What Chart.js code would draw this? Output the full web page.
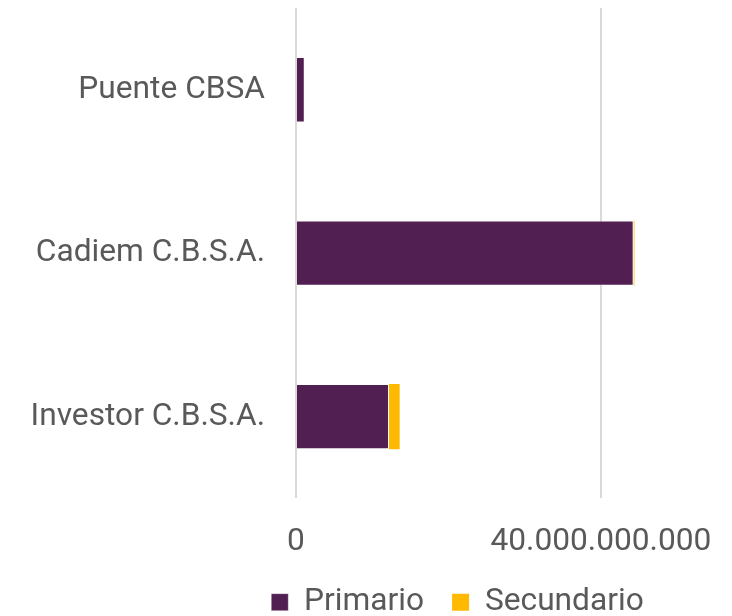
<!DOCTYPE html>
<html>
<head>
<meta charset="utf-8">
<script src="https://cdn.jsdelivr.net/npm/chart.js@4.4.1/dist/chart.umd.min.js"></script>
<style>
  html, body { margin: 0; padding: 0; background: #fff; }
  #wrap { width: 732px; height: 616px; position: relative; }
</style>
</head>
<body>
<div id="wrap"><canvas id="chart"></canvas></div>
<script>
const categories = ["Puente CBSA", "Cadiem C.B.S.A.", "Investor C.B.S.A."];
const primario = [1.15e9, 44.3e9, 12.2e9];
const secundario = [0, 0.1e9, 1.4e9];
const xTicks = [0, 40e9];
const X_MAX = 57.2e9;

const TEXT = "#595959";
const FONT = { family: "Roboto", size: 31.7 };

// 40000000000 -> 40.000.000.000
const fmt = (v) => String(Math.round(v)).replace(/\B(?=(\d{3})+(?!\d))/g, ".");

// the original legend is centred under the plot, not the whole canvas
const legendShift = {
  id: "legendShift",
  afterLayout: (chart) => { chart.legend.left = 183; }
};

new Chart(document.getElementById("chart"), {
  type: "bar",
  data: {
    labels: categories,
    datasets: [
      { label: "Primario", data: primario, backgroundColor: "#521f52", borderColor: "rgba(255,255,255,0.35)", borderWidth: 1, barPercentage: 0.4, categoryPercentage: 1 },
      { label: "Secundario", data: secundario, backgroundColor: "#ffb900", borderWidth: 0, barPercentage: 0.4, categoryPercentage: 1 }
    ]
  },
  options: {
    responsive: true,
    maintainAspectRatio: false,
    animation: false,
    indexAxis: "y",
    layout: { padding: { top: 8, left: 0, right: 0, bottom: -12 } },
    scales: {
      x: {
        stacked: true,
        min: 0,
        max: X_MAX,
        border: { display: false },
        grid: { color: "#d9d9d9", lineWidth: 2, drawTicks: false },
        ticks: {
          color: TEXT,
          font: FONT,
          padding: 25,
          maxRotation: 0,
          autoSkip: false,
          callback: (v) => fmt(v)
        },
        afterBuildTicks: (axis) => {
          axis.ticks = xTicks.map((value) => ({ value }));
        },
        afterFit: (axis) => {
          axis.height = 60;
          axis.paddingLeft = 0;
          axis.paddingRight = 0;
        }
      },
      y: {
        stacked: true,
        border: { display: false },
        grid: { display: false, drawTicks: false },
        ticks: { color: TEXT, font: FONT, padding: 31 },
        afterFit: (axis) => {
          axis.width = 296;
          axis.paddingTop = 0;
          axis.paddingBottom = 0;
        }
      }
    },
    plugins: {
      legend: {
        position: "bottom",
        labels: { color: TEXT, font: FONT, boxWidth: 17, boxHeight: 17, padding: 28 }
      },
      tooltip: { enabled: false }
    }
  },
  plugins: [legendShift]
});
</script>
</body>
</html>
